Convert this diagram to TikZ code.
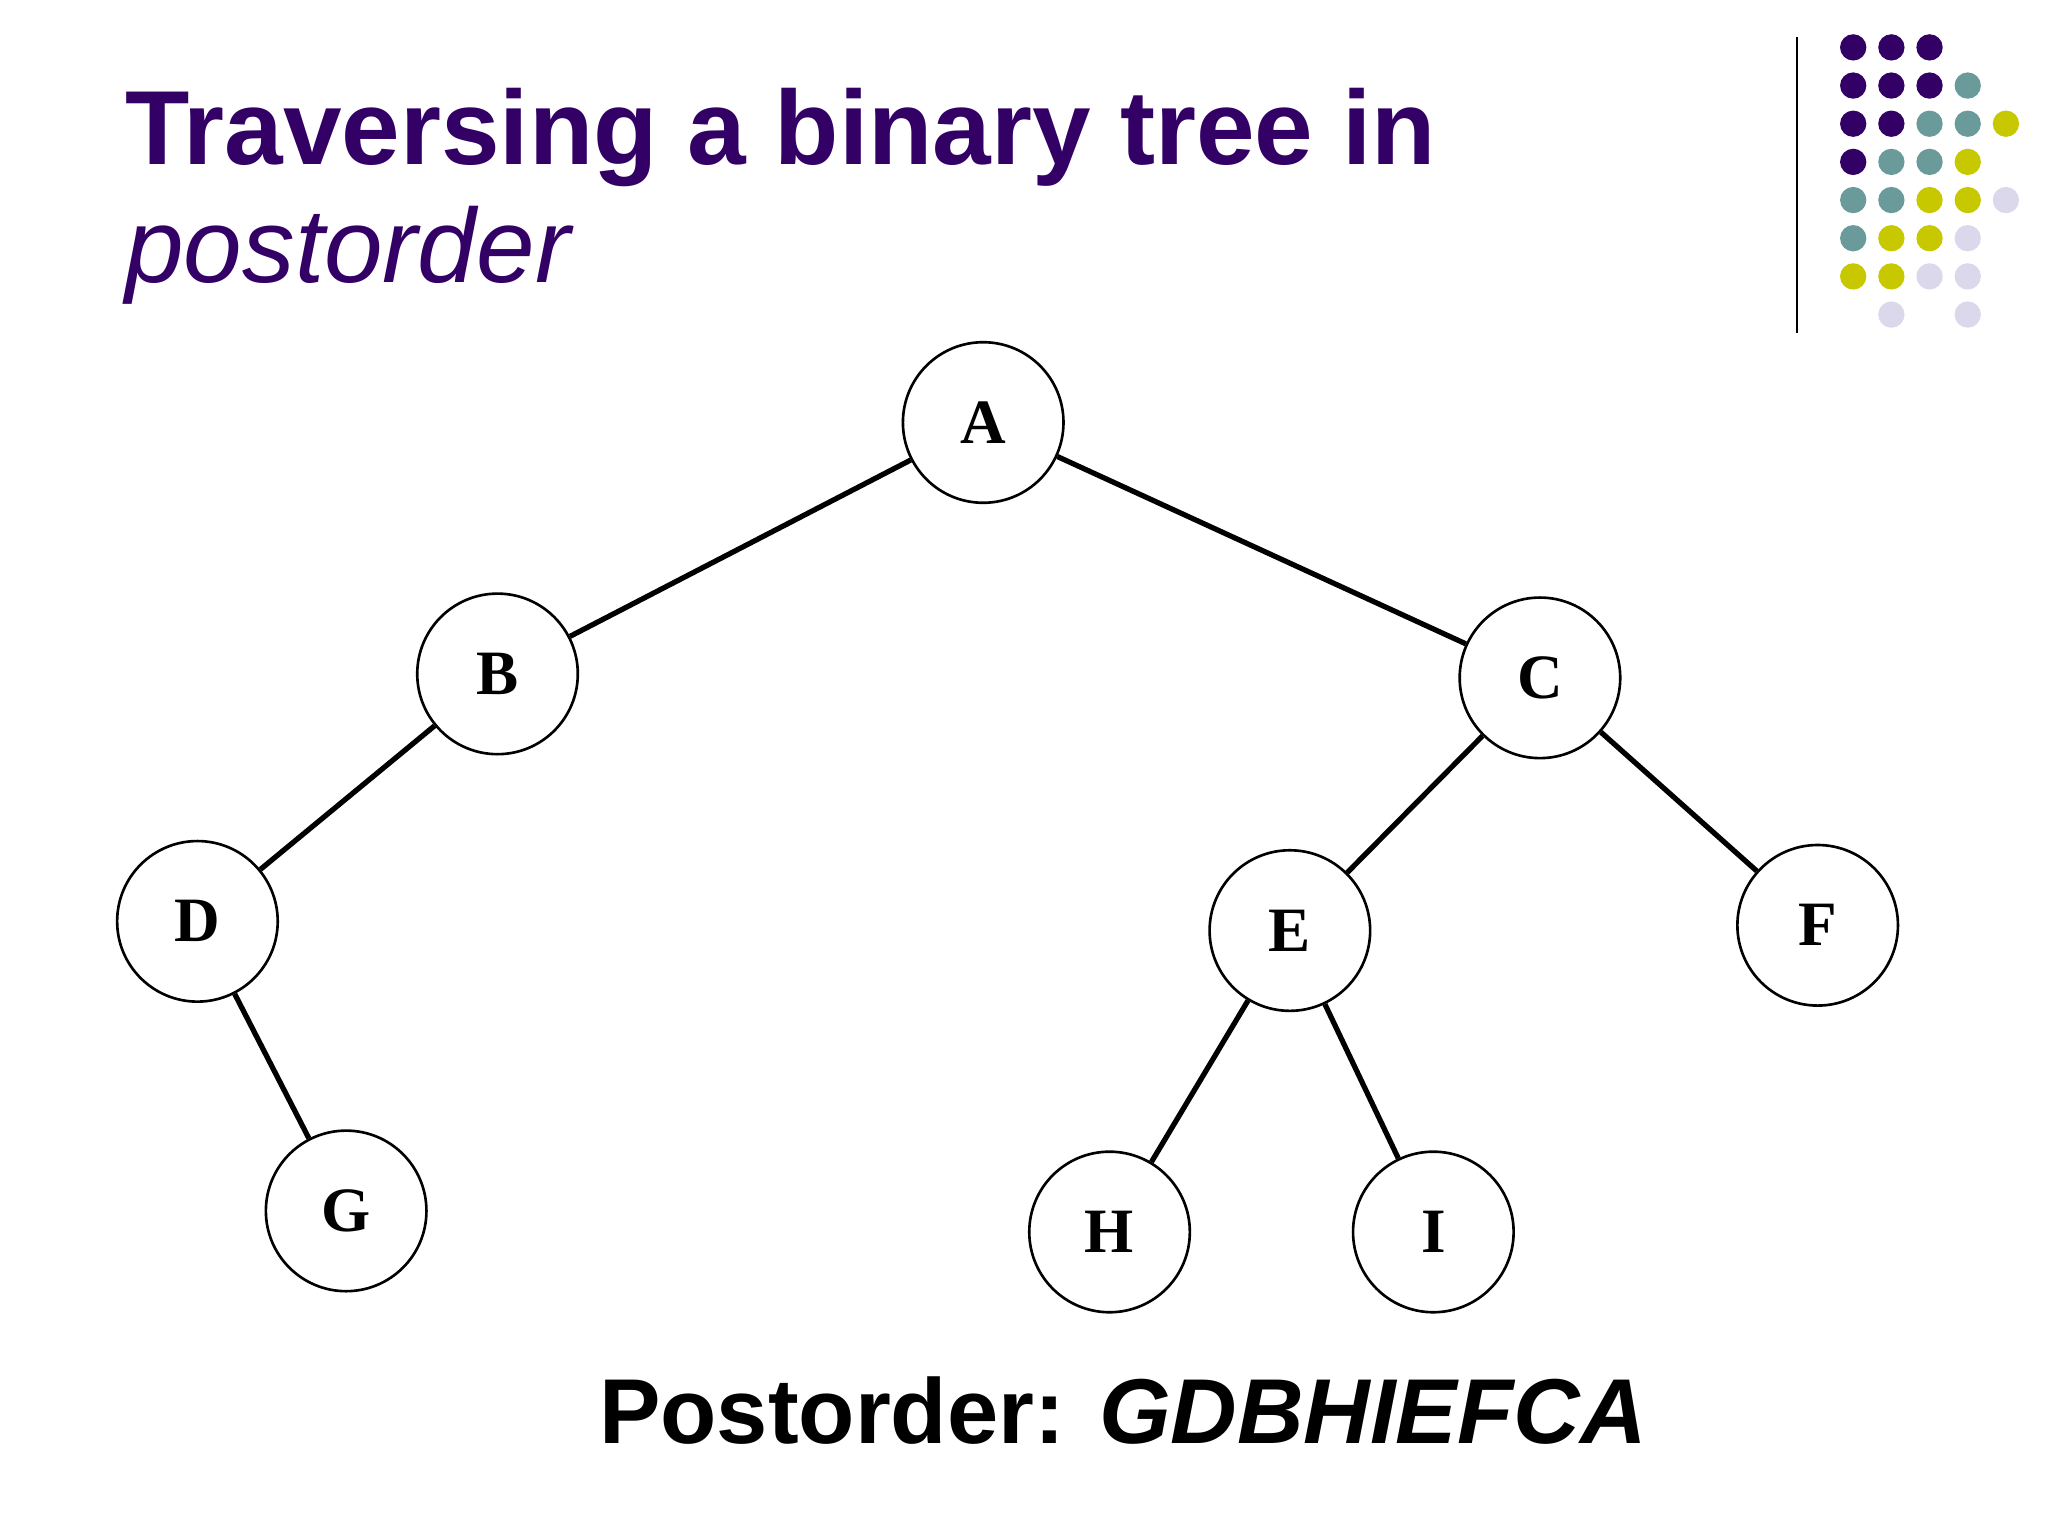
\documentclass[tikz,border=0pt]{standalone}
\usepackage{fontspec}
\setmainfont{Liberation Sans}
\newfontfamily\tnr{Liberation Serif}
\begin{document}
\begin{tikzpicture}[x=1pt,y=-1pt,
  tn/.style={circle,draw,line width=2pt,minimum size=122pt,inner sep=0pt,font=\tnr\fontsize{48}{50}\selectfont\bfseries},
  ed/.style={line width=4pt},
  dt/.style={circle,inner sep=0pt,minimum size=20pt}]
\definecolor{tpurple}{HTML}{330066}
\definecolor{tteal}{HTML}{6B9A9A}
\definecolor{tyel}{HTML}{C8C800}
\definecolor{tlav}{HTML}{DAD8EA}
\useasboundingbox (0,0) rectangle (1556,1167);
\node[anchor=base west,text=tpurple,font=\fontsize{80}{90}\selectfont\bfseries,inner sep=0pt] (t1) at (95,125) {Traversing a binary tree in};
\node[anchor=base west,text=tpurple,font=\fontsize{80}{90}\selectfont\itshape,inner sep=0pt] (t2) at (95,215) {postorder};
\draw[line width=1.5pt] (1365,28) coordinate (l1) -- (1365,253) coordinate (l2);
\foreach \c [count=\r from 0] in {
 {tpurple,tpurple,tpurple,none,none},
 {tpurple,tpurple,tpurple,tteal,none},
 {tpurple,tpurple,tteal,tteal,tyel},
 {tpurple,tteal,tteal,tyel,none},
 {tteal,tteal,tyel,tyel,tlav},
 {tteal,tyel,tyel,tlav,none},
 {tyel,tyel,tlav,tlav,none},
 {none,tlav,none,tlav,none}}{
  \foreach \cc [count=\k from 0] in \c {
    \node[dt,fill=\cc] (d\r\k) at (1408+29*\k,36+29*\r) {};
  }
}
\node[tn] (A) at (747,321) {A};
\node[tn] (B) at (378,512) {B};
\node[tn] (C) at (1170,515) {C};
\node[tn] (D) at (150,700) {D};
\node[tn] (E) at (980,707) {E};
\node[tn] (F) at (1381,703) {F};
\node[tn] (G) at (263,920) {G};
\node[tn] (H) at (843,936) {H};
\node[tn] (I) at (1089,936) {I};
\draw[ed] (A)--(B); \draw[ed] (A)--(C); \draw[ed] (B)--(D); \draw[ed] (D)--(G);
\draw[ed] (C)--(E); \draw[ed] (C)--(F); \draw[ed] (E)--(H); \draw[ed] (E)--(I);
\node[anchor=base west,inner sep=0pt,font=\fontsize{70}{80}\selectfont\bfseries] (p) at (455,1097) {Postorder: \textit{GDBHIEFCA}};
\end{tikzpicture}
\end{document}
